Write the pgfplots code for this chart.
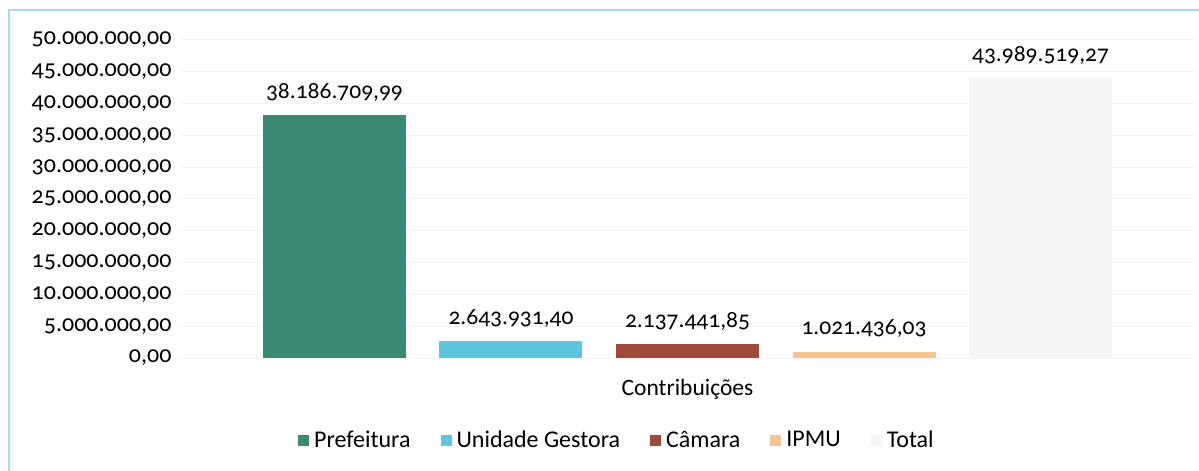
\documentclass[border=0pt]{standalone}
\usepackage{fontspec}
\setmainfont{Carlito}[Numbers=OldStyle]
\usepackage{pgfplots}
\pgfplotsset{compat=1.18}
\definecolor{cPref}{HTML}{3B8A74}
\definecolor{cUni}{HTML}{5CC6E0}
\definecolor{cCam}{HTML}{A24A3A}
\definecolor{cIpmu}{HTML}{F6C48E}
\definecolor{cTot}{HTML}{F5F5F5}
\definecolor{cBorder}{HTML}{A8DCE6}
\definecolor{cGrid}{HTML}{F4F4F4}
\newcommand{\lblfont}{\fontsize{23.5bp}{26bp}\selectfont}
\newcommand{\legfont}{\fontsize{24bp}{26bp}\selectfont}
\newcommand{\tickfont}{\fontsize{24bp}{27bp}\selectfont}
\newcommand{\datafont}{\fontsize{23.5bp}{26bp}\selectfont}
\begin{document}
\begin{tikzpicture}
\path[use as bounding box] (0bp,0bp) rectangle (1199bp,471bp);
\draw[cBorder, line width=2bp] (9bp,-5bp) -- (9bp,461bp) -- (1210bp,461bp);
\begin{axis}[
  at={(180bp,113bp)}, anchor=south west,
  scale only axis, width=1015bp, height=318bp,
  xmin=-0.875, xmax=4.875, ymin=0, ymax=50000000,
  scaled y ticks=false,
  axis line style={draw=none},
  major tick length=0pt,
  xtick=\empty,
  ytick={0,5000000,10000000,15000000,20000000,25000000,30000000,35000000,40000000,45000000,50000000},
  yticklabels={{0,00},{5.000.000,00},{10.000.000,00},{15.000.000,00},{20.000.000,00},{25.000.000,00},{30.000.000,00},{35.000.000,00},{40.000.000,00},{45.000.000,00},{50.000.000,00}},
  yticklabel style={font=\tickfont, anchor=east, xshift=-5bp},
  ymajorgrids, grid style={cGrid, line width=1bp},
  xlabel={Contribuições},
  xlabel style={font=\lblfont, at={(axis description cs:0.5,-0.10)}, anchor=center},
  clip=false,
  every node near coord/.append style={font=\datafont, anchor=center, yshift=23bp},
  legend columns=5,
  legend style={draw=none, fill=none, font=\legfont, at={(0.4305,-0.258)}, anchor=center,
    /tikz/every odd column/.append style={column sep=3bp},
    /tikz/every even column/.append style={column sep=28bp}},
  legend image code/.code={\path[#1,draw=none] (0bp,-5.5bp) rectangle (11bp,5.5bp);},
]
\addplot[ybar, bar width=143bp, bar shift=0pt, fill=cPref, draw=none, nodes near coords={38.186.709{,}99}] coordinates {(0,38186709.99)};
\addplot[ybar, bar width=143bp, bar shift=0pt, fill=cUni, draw=none, nodes near coords={2.643.931{,}40}] coordinates {(1,2643931.40)};
\addplot[ybar, bar width=143bp, bar shift=0pt, fill=cCam, draw=none, nodes near coords={2.137.441{,}85}] coordinates {(2,2137441.85)};
\addplot[ybar, bar width=143bp, bar shift=0pt, fill=cIpmu, draw=none, nodes near coords={1.021.436{,}03}] coordinates {(3,1021436.03)};
\addplot[ybar, bar width=143bp, bar shift=0pt, fill=cTot, draw=none, nodes near coords={43.989.519{,}27}] coordinates {(4,43989519.27)};
\legend{Prefeitura, Unidade Gestora, Câmara, IPMU, Total}
\end{axis}
\end{tikzpicture}
\end{document}
